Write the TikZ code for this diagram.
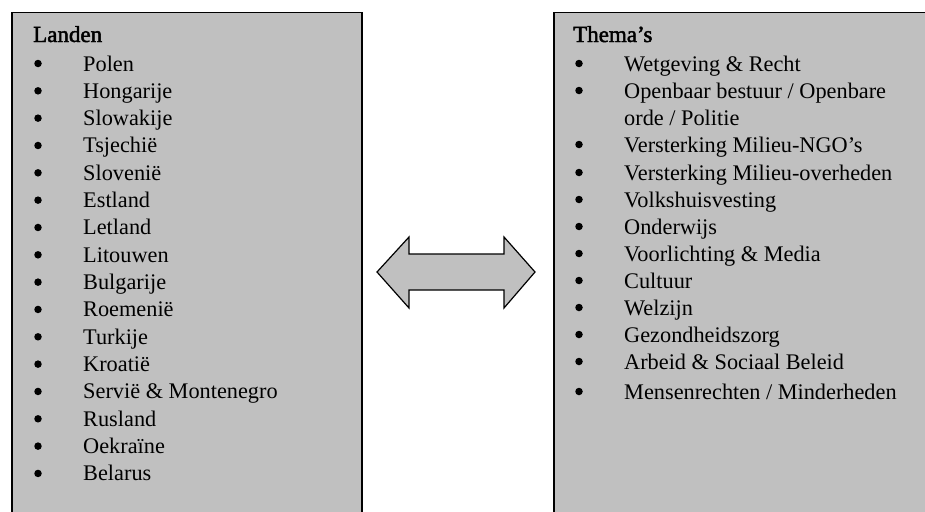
\documentclass[tikz,border=0pt]{standalone}
\usepackage{fontspec}
\setmainfont{Liberation Serif}
\newfontfamily\headfont[FakeBold=2]{Liberation Serif}
\definecolor{boxgray}{RGB}{192,192,192}
\begin{document}
\begin{tikzpicture}[x=1pt,y=-1pt,
  panel/.style={draw=black, line width=1.5pt, fill=boxgray, anchor=north west, inner sep=0pt},
  item/.style={anchor=base west, inner sep=0pt, font=\fontsize{22.3}{27}\selectfont},
  head/.style={anchor=base west, inner sep=0pt, font=\headfont\fontsize{23}{27}\selectfont},
  dot/.style={circle, fill=black, inner sep=0pt, minimum size=7.5pt},
  dblarrow/.style={draw=black, line width=1.2pt, fill=boxgray, line join=miter}]
\useasboundingbox (0,0) rectangle (925,511);
\begin{scope}
\clip (0,0) rectangle (925,511);
\node[panel, minimum width=350pt, minimum height=530pt] (landen) at (11,12) {};
\node[panel, minimum width=600pt, minimum height=530pt] (themas) at (553,12) {};
\end{scope}
% left list
\node[head] (hl) at (33,42) {Landen};
\foreach \t [count=\i] in {Polen, Hongarije, Slowakije, Tsjechië, Slovenië, Estland, Letland, Litouwen, Bulgarije, Roemenië, Turkije, Kroatië, {Servië \& Montenegro}, Rusland, Oekraïne, Belarus} {
  \node[item] (l\i) at (83,{71+27.33*(\i-1)}) {\t};
  \node[dot] (ld\i) at (38,{71+27.33*(\i-1)-7.5}) {};
}
% right list
\node[head] (hr) at (573,42) {Thema’s};
\foreach \t/\y [count=\i] in {{Wetgeving \& Recht}/71, {Openbaar bestuur / Openbare}/98, {Versterking Milieu-NGO’s}/152, {Versterking Milieu-overheden}/180, {Volkshuisvesting}/207, {Onderwijs}/234, {Voorlichting \& Media}/261, {Cultuur}/288, {Welzijn}/315, {Gezondheidszorg}/342, {Arbeid \& Sociaal Beleid}/369, {Mensenrechten / Minderheden}/399} {
  \node[item] (r\i) at (624,\y) {\t};
  \node[dot] (rd\i) at (579,{\y-7.5}) {};
}
\node[item] (r2b) at (624,125) {orde / Politie};
% double arrow
\draw[dblarrow] (377,272) -- (409,237) -- (409,254) -- (504,254) -- (504,237) -- (535,272)
  -- (504,308) -- (504,290) -- (409,290) -- (409,308) -- cycle;
\end{tikzpicture}
\end{document}
